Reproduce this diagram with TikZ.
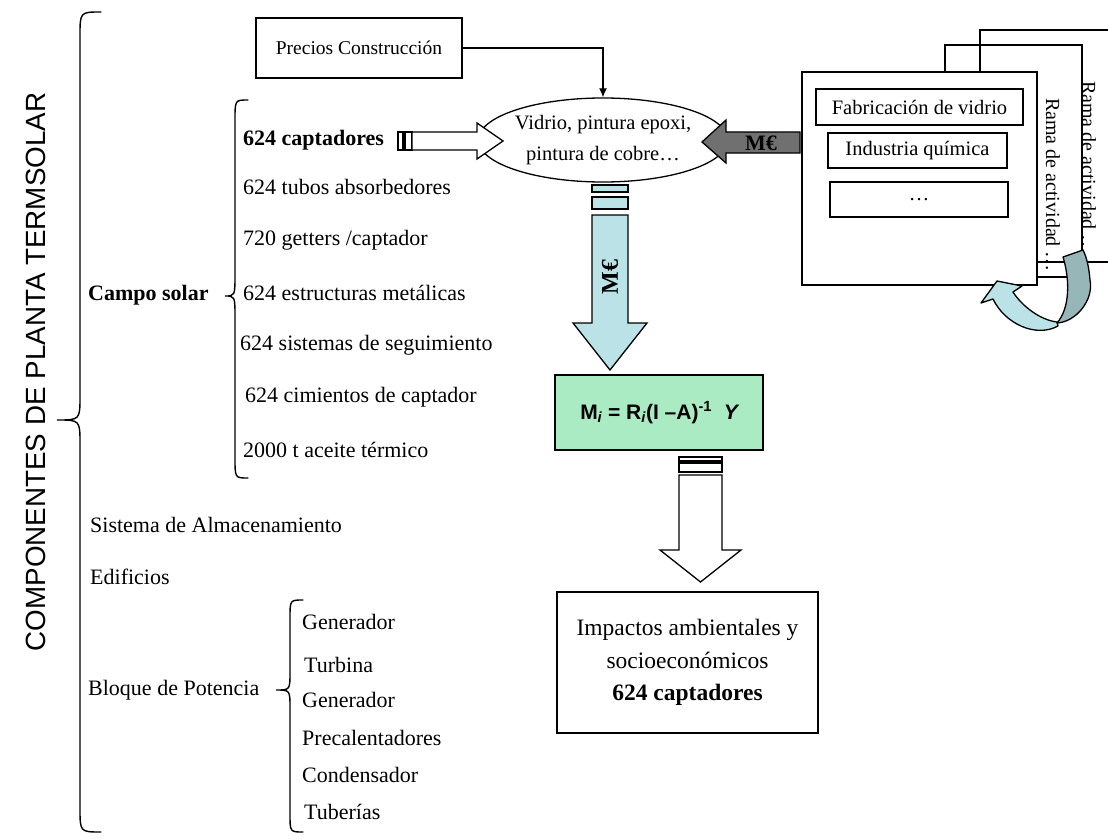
\documentclass[tikz,border=0pt]{standalone}
\usepackage{fontspec}
\setmainfont{Liberation Serif}
\setsansfont{Liberation Sans}
\usetikzlibrary{shapes.geometric,arrows.meta}

\definecolor{formulagreen}{RGB}{170,235,196}
\definecolor{flowblue}{RGB}{187,226,230}
\definecolor{flowdark}{RGB}{150,182,184}
\definecolor{moneygray}{RGB}{112,112,112}

\newcommand{\fs}[1]{\fontsize{#1}{#1}\selectfont}

\tikzset{
  item/.style={anchor=west, inner sep=0pt, font=\fs{22}},
  boxed/.style={draw, line width=1.3pt, inner sep=0pt},
  blockarrow/.style={draw, line width=1.3pt, line join=miter},
  bracepath/.style={line width=1.4pt, line cap=round},
  ramatext/.style={rotate=-90, inner sep=0pt, font=\fs{20}},
}

\begin{document}
\begin{tikzpicture}[x=1pt,y=-1pt]
\useasboundingbox (0,0) rectangle (1108,840);

% ---- title and main brace ----
\node[rotate=90, font=\sffamily\fs{27.8}] (title) at (36,372) {COMPONENTES DE PLANTA TERMSOLAR};
\draw[bracepath] (101,12) .. controls (80,12) .. (80,36) -- (80,396)
  .. controls (80,420) .. (57,420) .. controls (80,420) .. (80,444)
  -- (80,808) .. controls (80,832) .. (101,832);

% ---- solar field ----
\node[item, font=\bfseries\fs{22}] (campo) at (88,295) {Campo solar};
\draw[bracepath] (248,100) .. controls (235,100) .. (235,120) -- (235,274)
  .. controls (235,296) .. (225,296) .. controls (235,296) .. (235,318)
  -- (235,458) .. controls (235,478) .. (248,478);
\node[item, font=\bfseries\fs{22}] (capt) at (243,140) {624 captadores};
\node[item] (tubos) at (243,187) {624 tubos absorbedores};
\node[item] (getters) at (243,240) {720 getters /captador};
\node[item] (estruct) at (243,293) {624 estructuras metálicas};
\node[item] (seguim) at (240,345) {624 sistemas de seguimiento};
\node[item] (cimient) at (245,397) {624 cimientos de captador};
\node[item] (aceite) at (243,450) {2000 t aceite térmico};

\node[item] (almac) at (90,525) {Sistema de Almacenamiento};
\node[item] (edif) at (90,577) {Edificios};

% ---- power block ----
\node[item] (bloque) at (88,690) {Bloque de Potencia};
\draw[bracepath] (303,600) .. controls (290,600) .. (290,618) -- (290,672)
  .. controls (290,690) .. (276,690) .. controls (290,690) .. (290,708)
  -- (290,814) .. controls (290,832) .. (303,832);
\node[item] (gen1) at (302,622) {Generador};
\node[item] (turb) at (304,665) {Turbina};
\node[item] (gen2) at (302,700) {Generador};
\node[item] (precal) at (302,738) {Precalentadores};
\node[item] (conden) at (302,775) {Condensador};
\node[item] (tuber) at (304,812) {Tuberías};

% ---- prices and materials ----
\node[boxed, minimum width=206pt, minimum height=60pt, font=\fs{19.5}] (precios) at (359,48) {Precios Construcción};
\node[draw, ellipse, line width=1.3pt, minimum width=190pt, minimum height=84pt, inner sep=0pt,
      align=center, font=\fs{20.5}] (vidrio) at (603,140) {Vidrio, pintura epoxi,\\[11pt]pintura de cobre…};
\draw[line width=1.3pt, -{Latex[length=9pt,width=8pt]}] (precios.east) -| (vidrio.north);

% hollow arrow from the collectors to the materials
\draw[blockarrow, fill=white] (398,132) rectangle (403,150);
\draw[blockarrow, fill=white] (405,132) rectangle (412,150);
\draw[blockarrow, fill=white] (412,132) -- (477,132) -- (477,123) -- (503,141)
  -- (477,159) -- (477,150) -- (412,150) -- cycle;

% ---- industry branches ----
\draw[line width=1.3pt] (1108,30) -- (980,30) -- (980,262) -- (1108,262);
\draw[line width=1.3pt] (945,45) rectangle (1082,277);
\node[ramatext] (rama2) at (1089,168) {Rama de actividad …};
\node[ramatext] (rama1) at (1053,185) {Rama de actividad …};
\node[boxed, fill=white, minimum width=235pt, minimum height=213pt] (industria) at (919.5,178.5) {};
\node[boxed, minimum width=207pt, minimum height=36pt, font=\fs{20.5}] (fabvid) at (919.5,107) {Fabricación de vidrio};
\node[boxed, minimum width=179pt, minimum height=35pt, font=\fs{20.5}] (quimica) at (917.5,150.5) {Industria química};
\node[boxed, minimum width=178pt, minimum height=35pt, font=\fs{20.5}] (otras) at (919,199.5) {…};

% money flow from industry into the materials
\draw[blockarrow, fill=moneygray] (800,132) -- (726,132) -- (726,120) -- (702,142)
  -- (726,163) -- (726,153) -- (800,153) -- cycle;
\node[font=\bfseries\fs{22}] (meuro1) at (761,143) {M€};

% looping arrow between the branches
\draw[line width=1.3pt, fill=flowblue, line join=round]
  (1057,322) .. controls (1040,320) and (1022,306) .. (1013,292)
  -- (1022,286) -- (997,281) -- (981,303) -- (993,299)
  .. controls (1005,324) and (1036,338) .. (1058,326) -- cycle;
\draw[line width=1.3pt, fill=flowdark, line join=round]
  (1063,257) .. controls (1070,280) and (1070,308) .. (1057,323)
  .. controls (1076,322) and (1094,300) .. (1090,280)
  .. controls (1089,268) and (1087,258) .. (1083,250) -- cycle;

% ---- money flow down to the model ----
\draw[blockarrow, fill=flowblue] (592,185) rectangle (628,192);
\draw[blockarrow, fill=flowblue] (592,197) rectangle (628,209);
\draw[blockarrow, fill=flowblue] (592,215) -- (592,323) -- (573,323) -- (610,370)
  -- (647,323) -- (628,323) -- (628,215) -- cycle;
\node[rotate=90, font=\bfseries\fs{24}] (meuro2) at (610,277) {M€};

\node[boxed, fill=formulagreen, minimum width=208pt, minimum height=75pt,
      font=\sffamily\bfseries\fs{21}] (modelo) at (659,412.5)
  {M\textsubscript{\itshape i} = R\textsubscript{\itshape i}(I –A)\textsuperscript{-1}\ \ \itshape Y};

% ---- results ----
\draw[blockarrow, fill=white] (679,457) rectangle (722,461);
\draw[blockarrow, fill=white] (679,463) rectangle (722,472);
\draw[blockarrow, fill=white] (679,475) -- (679,550) -- (660,550) -- (700.5,582)
  -- (741,550) -- (722,550) -- (722,475) -- cycle;

\node[boxed, minimum width=261pt, minimum height=141pt, align=center, font=\fs{23.5}]
  (impactos) at (687.5,662.5)
  {Impactos ambientales y\\[9pt]socioeconómicos\\[9pt]\textbf{624 captadores}};
\end{tikzpicture}
\end{document}
